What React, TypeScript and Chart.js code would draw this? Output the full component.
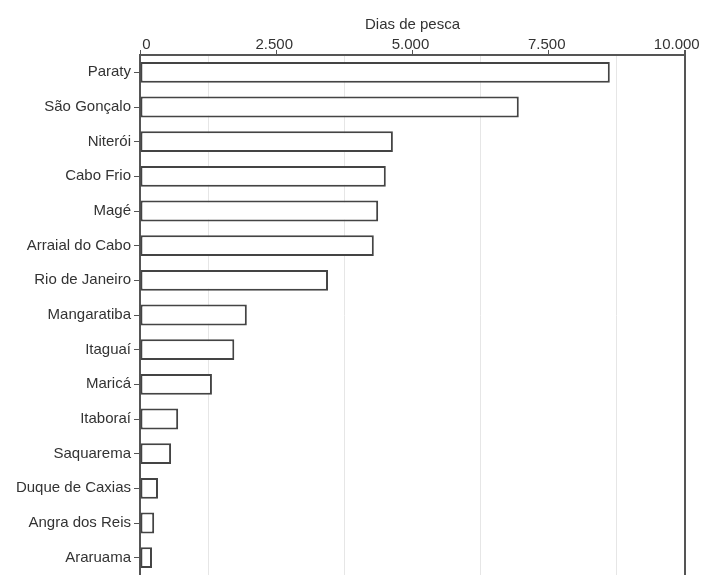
import React, { useEffect, useRef } from "react";
import { Chart, registerables } from "chart.js";

Chart.register(...registerables);

const municipios = [
  "Paraty",
  "São Gonçalo",
  "Niterói",
  "Cabo Frio",
  "Magé",
  "Arraial do Cabo",
  "Rio de Janeiro",
  "Mangaratiba",
  "Itaguaí",
  "Maricá",
  "Itaboraí",
  "Saquarema",
  "Duque de Caxias",
  "Angra dos Reis",
  "Araruama",
];

const diasDePesca = [
  8620, 6950, 4640, 4510, 4370, 4290, 3450, 1960, 1730, 1320, 700, 570, 330,
  260, 220,
];

const axisTitle = "Dias de pesca";
const xMax = 10000;
const majorStep = 2500;
const minorStep = 1250;

const fmt = (v: number) =>
  String(Math.round(v)).replace(/\B(?=(\d{3})+(?!\d))/g, ".");

const FONT = "'Liberation Sans', Arial, Helvetica, sans-serif";
const AXIS = "#555555";
const TEXT = "#333333";

export default function App() {
  const ref = useRef<HTMLCanvasElement | null>(null);

  useEffect(() => {
    if (!ref.current) return;
    const chart = new Chart(ref.current, {
      type: "bar",
      data: {
        labels: municipios,
        datasets: [
          {
            data: diasDePesca,
            backgroundColor: "#ffffff",
            borderColor: "#444444",
            borderWidth: 2,
            borderSkipped: false,
            barPercentage: 0.6,
            categoryPercentage: 1,
          },
        ],
      },
      options: {
        indexAxis: "y",
        responsive: false,
        animation: false,
        layout: { padding: { left: 0, right: 20, top: 0, bottom: 0 } },
        plugins: {
          legend: { display: false },
          tooltip: { enabled: false },
        },
        scales: {
          x: {
            position: "top",
            min: 0,
            max: xMax,
            afterFit: (scale: any) => {
              scale.height = 55;
              scale.paddingLeft = 0;
              scale.paddingRight = 0;
            },
            title: {
              display: true,
              text: axisTitle,
              color: TEXT,
              font: { family: FONT, size: 15, lineHeight: 1.2 },
              padding: { top: 16, bottom: 0 },
            },
            ticks: {
              stepSize: minorStep,
              autoSkip: false,
              maxRotation: 0,
              padding: -2,
              labelOffset: -2,
              color: TEXT,
              font: { family: FONT, size: 15, lineHeight: 1 },
              callback: (v: any) => {
                const n = Number(v);
                if (n % majorStep !== 0) return "";
                if (n === 0) return "    " + fmt(n);
                if (n === xMax) return fmt(n) + "   ";
                return fmt(n);
              },
            },
            grid: {
              drawOnChartArea: true,
              drawTicks: true,
              tickLength: 5,
              lineWidth: (ctx: any) => {
                const v = ctx.tick ? ctx.tick.value : 0;
                return v === xMax ? 2 : 1;
              },
              color: (ctx: any) => {
                const v = ctx.tick ? ctx.tick.value : 0;
                if (v === xMax) return AXIS;
                if (v % majorStep === 0) return "rgba(0,0,0,0)";
                return "#e6e6e6";
              },
              tickColor: (ctx: any) => {
                const v = ctx.tick ? ctx.tick.value : 0;
                return v % majorStep === 0 ? AXIS : "rgba(0,0,0,0)";
              },
            },
            border: { display: true, color: AXIS, width: 2 },
          },
          y: {
            afterFit: (scale: any) => {
              scale.width = 140;
              scale.paddingTop = 0;
              scale.paddingBottom = 0;
            },
            ticks: {
              padding: 3,
              color: TEXT,
              font: { family: FONT, size: 15 },
              autoSkip: false,
            },
            grid: {
              offset: false,
              drawOnChartArea: false,
              drawTicks: true,
              tickLength: 6,
              tickColor: AXIS,
            },
            border: { display: true, color: AXIS, width: 2 },
          },
        },
      },
    });
    return () => chart.destroy();
  }, []);

  return (
    <div
      style={{
        position: "absolute",
        left: 0,
        top: 0,
        width: 705,
        height: 575,
        background: "#ffffff",
      }}
    >
      <canvas ref={ref} width={705} height={575} />
    </div>
  );
}
